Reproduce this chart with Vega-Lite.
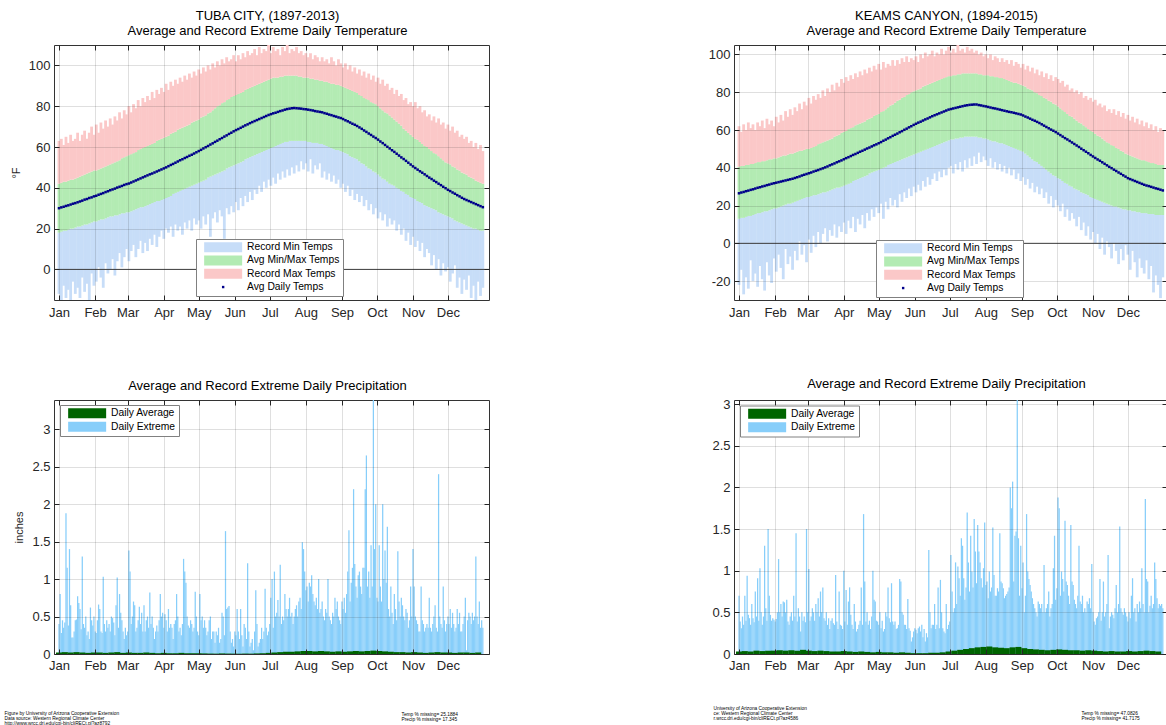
{
"$schema":"https://vega.github.io/schema/vega-lite/v6.json",
"padding":{"left":3,"top":9,"right":0,"bottom":0},
"background":"#ffffff",
"config":{
 "font":"Liberation Sans",
 "view":{"stroke":"#333333","strokeWidth":1},
 "title":{"fontSize":13,"fontWeight":"normal","color":"#000000","lineHeight":15,"offset":7,"dx":-4,"font":"Liberation Sans"},
 "axis":{"domain":false,"tickSize":-5,"tickColor":"#262626","tickWidth":1,"labelPadding":9,"labelFontSize":13,"labelColor":"#262626","labelFont":"Liberation Sans","gridColor":"#262626","gridOpacity":0.15,"titleFontWeight":"normal","titleColor":"#262626","titleFontSize":11,"titleFont":"Liberation Sans"},
 "legend":{"labelFont":"Liberation Sans","labelFontSize":10.3,"labelColor":"#000000"}
},
"datasets":{
"tt":[
{"d":1,"av":30,"mn":18,"mx":42,"hi":63,"lo":-12},{"d":3,"av":30.4,"mn":18.5,"mx":42.5,"hi":64,"lo":-15},{"d":5,"av":30.7,"mn":19,"mx":43,"hi":61,"lo":-8},{"d":7,"av":31.1,"mn":19,"mx":43,"hi":65,"lo":-14},{"d":9,"av":31.4,"mn":19.5,"mx":43.5,"hi":62,"lo":-10},{"d":11,"av":31.8,"mn":20,"mx":44,"hi":66,"lo":-15},{"d":13,"av":32.2,"mn":20,"mx":44,"hi":63,"lo":-6},{"d":15,"av":32.5,"mn":20.5,"mx":44.5,"hi":64,"lo":-12},
{"d":17,"av":32.9,"mn":21,"mx":45,"hi":67,"lo":-9},{"d":19,"av":33.3,"mn":21,"mx":45.5,"hi":63,"lo":-14},{"d":21,"av":33.7,"mn":21.5,"mx":46,"hi":66,"lo":-4},{"d":23,"av":34.2,"mn":22,"mx":46.5,"hi":68,"lo":-11},{"d":25,"av":34.5,"mn":22,"mx":47,"hi":64,"lo":-7},{"d":27,"av":35,"mn":22.5,"mx":47.5,"hi":67,"lo":-15},{"d":29,"av":35.3,"mn":23,"mx":48,"hi":70,"lo":-2},{"d":31,"av":35.8,"mn":23.5,"mx":48.5,"hi":66,"lo":-8},
{"d":33,"av":36.1,"mn":23.5,"mx":48.5,"hi":71,"lo":-6},{"d":35,"av":36.6,"mn":24,"mx":49,"hi":67,"lo":1},{"d":37,"av":37,"mn":24.5,"mx":49.5,"hi":72,"lo":-4},{"d":39,"av":37.4,"mn":24.5,"mx":50,"hi":69,"lo":-9},{"d":41,"av":37.9,"mn":25,"mx":50.5,"hi":73,"lo":3},{"d":43,"av":38.3,"mn":25.5,"mx":51,"hi":70,"lo":-2},{"d":45,"av":38.8,"mn":26,"mx":51.5,"hi":74,"lo":0},
{"d":47,"av":39.2,"mn":26,"mx":52,"hi":71,"lo":5},{"d":49,"av":39.6,"mn":26.5,"mx":52.5,"hi":75,"lo":-3},{"d":51,"av":40.1,"mn":26.5,"mx":53,"hi":73,"lo":4},{"d":53,"av":40.5,"mn":27,"mx":53.5,"hi":77,"lo":8},{"d":55,"av":40.9,"mn":27.5,"mx":54.5,"hi":74,"lo":1},{"d":57,"av":41.4,"mn":27.5,"mx":55,"hi":78,"lo":6},{"d":59,"av":41.8,"mn":28,"mx":55.5,"hi":76,"lo":10},
{"d":61,"av":42.1,"mn":28,"mx":56,"hi":80,"lo":4},{"d":63,"av":42.6,"mn":28.5,"mx":56.5,"hi":77,"lo":9},{"d":65,"av":43.1,"mn":29,"mx":57,"hi":81,"lo":12},{"d":67,"av":43.6,"mn":29.5,"mx":57.5,"hi":79,"lo":6},{"d":69,"av":44.1,"mn":30,"mx":58.5,"hi":83,"lo":10},{"d":71,"av":44.6,"mn":30.5,"mx":59,"hi":80,"lo":14},{"d":73,"av":45.1,"mn":30.5,"mx":59.5,"hi":84,"lo":8},
{"d":75,"av":45.6,"mn":31,"mx":60,"hi":82,"lo":13},{"d":77,"av":46.1,"mn":31.5,"mx":60.5,"hi":85,"lo":9},{"d":79,"av":46.6,"mn":32,"mx":61,"hi":83,"lo":15},{"d":81,"av":47,"mn":32.5,"mx":61.5,"hi":87,"lo":12},{"d":83,"av":47.5,"mn":33,"mx":62,"hi":84,"lo":17},{"d":85,"av":48,"mn":33.5,"mx":63,"hi":88,"lo":11},{"d":87,"av":48.5,"mn":33.5,"mx":63.5,"hi":86,"lo":16},{"d":89,"av":49,"mn":34,"mx":64,"hi":89,"lo":19},
{"d":91,"av":49.5,"mn":34.5,"mx":64.5,"hi":87,"lo":15},{"d":93,"av":50,"mn":35,"mx":65,"hi":91,"lo":20},{"d":95,"av":50.6,"mn":35.5,"mx":65.5,"hi":88,"lo":18},{"d":97,"av":51.2,"mn":36,"mx":66.5,"hi":92,"lo":21},{"d":99,"av":51.7,"mn":37,"mx":67,"hi":90,"lo":16},{"d":101,"av":52.3,"mn":37.5,"mx":67.5,"hi":93,"lo":22},{"d":103,"av":52.9,"mn":38,"mx":68.5,"hi":91,"lo":19},
{"d":105,"av":53.5,"mn":38.5,"mx":69,"hi":94,"lo":21},{"d":107,"av":54,"mn":39,"mx":69.5,"hi":92,"lo":17},{"d":109,"av":54.6,"mn":39.5,"mx":70,"hi":95,"lo":23},{"d":111,"av":55.1,"mn":40,"mx":70.5,"hi":93,"lo":20},{"d":113,"av":55.7,"mn":40.5,"mx":71,"hi":96,"lo":24},{"d":115,"av":56.2,"mn":41,"mx":72,"hi":94,"lo":19},{"d":117,"av":56.8,"mn":41.5,"mx":72.5,"hi":97,"lo":25},{"d":119,"av":57.4,"mn":42,"mx":73,"hi":95,"lo":22},
{"d":121,"av":58,"mn":42.5,"mx":73.5,"hi":98,"lo":24},{"d":123,"av":58.6,"mn":43,"mx":74.5,"hi":96,"lo":20},{"d":125,"av":59.3,"mn":43.5,"mx":75,"hi":99,"lo":26},{"d":127,"av":59.9,"mn":44,"mx":75.5,"hi":97,"lo":22},{"d":129,"av":60.5,"mn":45,"mx":76.5,"hi":100,"lo":27},{"d":131,"av":61.2,"mn":45.5,"mx":77,"hi":98,"lo":16},{"d":133,"av":61.8,"mn":46,"mx":78,"hi":101,"lo":25},
{"d":135,"av":62.5,"mn":46.5,"mx":79,"hi":99,"lo":28},{"d":137,"av":63.1,"mn":47,"mx":80,"hi":102,"lo":23},{"d":139,"av":63.8,"mn":47.5,"mx":80.5,"hi":100,"lo":29},{"d":141,"av":64.4,"mn":48,"mx":81.5,"hi":103,"lo":26},{"d":143,"av":65.1,"mn":48.5,"mx":82,"hi":101,"lo":15},{"d":145,"av":65.7,"mn":49.5,"mx":83,"hi":104,"lo":30},{"d":147,"av":66.4,"mn":50,"mx":83.5,"hi":102,"lo":27},{"d":149,"av":67,"mn":50.5,"mx":84.5,"hi":103,"lo":31},{"d":151,"av":67.7,"mn":51,"mx":85,"hi":105,"lo":28},
{"d":153,"av":68.3,"mn":51.5,"mx":85.5,"hi":102,"lo":33},{"d":155,"av":68.8,"mn":52,"mx":86,"hi":105,"lo":29},{"d":157,"av":69.4,"mn":52.5,"mx":86.5,"hi":103,"lo":35},{"d":159,"av":70,"mn":53,"mx":87,"hi":106,"lo":31},{"d":161,"av":70.6,"mn":54,"mx":88,"hi":104,"lo":36},{"d":163,"av":71.1,"mn":54.5,"mx":88.5,"hi":107,"lo":33},{"d":165,"av":71.7,"mn":55,"mx":89,"hi":105,"lo":38},
{"d":167,"av":72.2,"mn":55.5,"mx":89.5,"hi":106,"lo":34},{"d":169,"av":72.7,"mn":56,"mx":90,"hi":108,"lo":39},{"d":171,"av":73.2,"mn":56.5,"mx":90.5,"hi":105,"lo":37},{"d":173,"av":73.7,"mn":57,"mx":91,"hi":109,"lo":41},{"d":175,"av":74.2,"mn":57.5,"mx":91.5,"hi":106,"lo":38},{"d":177,"av":74.7,"mn":58,"mx":92,"hi":108,"lo":43},{"d":179,"av":75.2,"mn":58.5,"mx":92.5,"hi":107,"lo":40},{"d":181,"av":75.7,"mn":59,"mx":93,"hi":110,"lo":44},
{"d":183,"av":76.1,"mn":59.5,"mx":93.5,"hi":106,"lo":41},{"d":185,"av":76.5,"mn":60,"mx":94,"hi":109,"lo":45},{"d":187,"av":76.8,"mn":60.5,"mx":94,"hi":107,"lo":42},{"d":189,"av":77.2,"mn":61,"mx":94,"hi":108,"lo":47},{"d":191,"av":77.6,"mn":61.5,"mx":94.5,"hi":105,"lo":44},{"d":193,"av":77.9,"mn":62,"mx":94.5,"hi":109,"lo":48},{"d":195,"av":78.3,"mn":62.5,"mx":95,"hi":107,"lo":45},
{"d":197,"av":78.6,"mn":62.5,"mx":95,"hi":110,"lo":49},{"d":199,"av":78.8,"mn":63,"mx":95,"hi":106,"lo":46},{"d":201,"av":79,"mn":63,"mx":95,"hi":108,"lo":50},{"d":203,"av":79.1,"mn":63,"mx":95,"hi":107,"lo":47},{"d":205,"av":79,"mn":63,"mx":95,"hi":109,"lo":51},{"d":207,"av":78.9,"mn":63,"mx":94.5,"hi":106,"lo":48},{"d":209,"av":78.8,"mn":63,"mx":94.5,"hi":107,"lo":53},{"d":211,"av":78.6,"mn":63,"mx":94,"hi":105,"lo":49},
{"d":213,"av":78.5,"mn":63,"mx":94,"hi":106,"lo":52},{"d":215,"av":78.3,"mn":62.5,"mx":94,"hi":104,"lo":48},{"d":217,"av":78.1,"mn":62.5,"mx":93.5,"hi":106,"lo":54},{"d":219,"av":77.9,"mn":62,"mx":93.5,"hi":103,"lo":47},{"d":221,"av":77.6,"mn":62,"mx":93,"hi":105,"lo":51},{"d":223,"av":77.4,"mn":62,"mx":93,"hi":104,"lo":49},{"d":225,"av":77.2,"mn":61.5,"mx":92.5,"hi":102,"lo":52},
{"d":227,"av":77,"mn":61.5,"mx":92.5,"hi":104,"lo":45},{"d":229,"av":76.6,"mn":61,"mx":92,"hi":102,"lo":48},{"d":231,"av":76.3,"mn":60.5,"mx":92,"hi":103,"lo":44},{"d":233,"av":75.9,"mn":60,"mx":91.5,"hi":101,"lo":47},{"d":235,"av":75.6,"mn":59.5,"mx":91,"hi":104,"lo":43},{"d":237,"av":75.2,"mn":59,"mx":91,"hi":102,"lo":46},{"d":239,"av":74.9,"mn":58.5,"mx":90.5,"hi":100,"lo":42},{"d":241,"av":74.5,"mn":58.5,"mx":90.5,"hi":103,"lo":44},{"d":243,"av":74.2,"mn":58,"mx":90,"hi":101,"lo":40},
{"d":245,"av":73.7,"mn":57.5,"mx":89.5,"hi":99,"lo":42},{"d":247,"av":73.1,"mn":57,"mx":89,"hi":101,"lo":38},{"d":249,"av":72.6,"mn":56.5,"mx":88.5,"hi":98,"lo":41},{"d":251,"av":72,"mn":55.5,"mx":88,"hi":100,"lo":36},{"d":253,"av":71.4,"mn":55,"mx":87.5,"hi":97,"lo":39},{"d":255,"av":70.9,"mn":54.5,"mx":87,"hi":99,"lo":34},{"d":257,"av":70.3,"mn":54,"mx":86.5,"hi":96,"lo":37},
{"d":259,"av":69.6,"mn":53,"mx":85.5,"hi":98,"lo":33},{"d":261,"av":68.9,"mn":52,"mx":85,"hi":95,"lo":36},{"d":263,"av":68.1,"mn":51.5,"mx":84,"hi":97,"lo":31},{"d":265,"av":67.4,"mn":50.5,"mx":83.5,"hi":94,"lo":34},{"d":267,"av":66.6,"mn":49.5,"mx":83,"hi":96,"lo":29},{"d":269,"av":65.9,"mn":49,"mx":82,"hi":93,"lo":32},{"d":271,"av":65.1,"mn":48,"mx":81.5,"hi":95,"lo":27},{"d":273,"av":64.4,"mn":47.5,"mx":81,"hi":92,"lo":30},
{"d":275,"av":63.6,"mn":46.5,"mx":80,"hi":94,"lo":25},{"d":277,"av":62.7,"mn":45.5,"mx":79,"hi":91,"lo":28},{"d":279,"av":61.9,"mn":44.5,"mx":78,"hi":93,"lo":24},{"d":281,"av":61,"mn":44,"mx":77,"hi":90,"lo":27},{"d":283,"av":60.1,"mn":43,"mx":76.5,"hi":91,"lo":21},{"d":285,"av":59.3,"mn":42,"mx":75.5,"hi":88,"lo":25},{"d":287,"av":58.4,"mn":41.5,"mx":74.5,"hi":89,"lo":22},
{"d":289,"av":57.6,"mn":41,"mx":73.5,"hi":86,"lo":24},{"d":291,"av":56.7,"mn":40,"mx":72.5,"hi":88,"lo":19},{"d":293,"av":55.8,"mn":39.5,"mx":71.5,"hi":85,"lo":22},{"d":295,"av":54.9,"mn":38.5,"mx":70.5,"hi":86,"lo":17},{"d":297,"av":54.1,"mn":38,"mx":69,"hi":83,"lo":20},{"d":299,"av":53.2,"mn":37,"mx":68,"hi":84,"lo":14},{"d":301,"av":52.3,"mn":36.5,"mx":67,"hi":81,"lo":18},{"d":303,"av":51.4,"mn":35.5,"mx":66,"hi":82,"lo":12},
{"d":305,"av":50.5,"mn":35,"mx":65,"hi":80,"lo":16},{"d":307,"av":49.7,"mn":34.5,"mx":64,"hi":82,"lo":11},{"d":309,"av":48.9,"mn":33.5,"mx":63.5,"hi":79,"lo":14},{"d":311,"av":48.1,"mn":33,"mx":62.5,"hi":80,"lo":9},{"d":313,"av":47.4,"mn":32.5,"mx":61.5,"hi":77,"lo":13},{"d":315,"av":46.6,"mn":31.5,"mx":60.5,"hi":78,"lo":6},{"d":317,"av":45.8,"mn":31,"mx":60,"hi":75,"lo":10},
{"d":319,"av":45,"mn":30.5,"mx":59,"hi":76,"lo":8},{"d":321,"av":44.3,"mn":30,"mx":58,"hi":73,"lo":2},{"d":323,"av":43.5,"mn":29.5,"mx":57,"hi":75,"lo":7},{"d":325,"av":42.8,"mn":29,"mx":56.5,"hi":72,"lo":0},{"d":327,"av":42,"mn":28,"mx":55.5,"hi":74,"lo":5},{"d":329,"av":41.3,"mn":27.5,"mx":54.5,"hi":71,"lo":-3},{"d":331,"av":40.5,"mn":27,"mx":53.5,"hi":72,"lo":3},{"d":333,"av":39.8,"mn":26.5,"mx":52.5,"hi":69,"lo":-1},
{"d":335,"av":39,"mn":26,"mx":52,"hi":71,"lo":1},{"d":337,"av":38.4,"mn":25.5,"mx":51.5,"hi":68,"lo":-6},{"d":339,"av":37.7,"mn":25,"mx":50.5,"hi":70,"lo":-2},{"d":341,"av":37.1,"mn":24,"mx":50,"hi":67,"lo":2},{"d":343,"av":36.4,"mn":23.5,"mx":49,"hi":68,"lo":-9},{"d":345,"av":35.8,"mn":23,"mx":48.5,"hi":65,"lo":-4},{"d":347,"av":35.1,"mn":22.5,"mx":47.5,"hi":66,"lo":-12},
{"d":349,"av":34.5,"mn":22,"mx":47,"hi":64,"lo":-5},{"d":351,"av":34,"mn":21.5,"mx":46.5,"hi":65,"lo":-10},{"d":353,"av":33.5,"mn":21,"mx":45.5,"hi":62,"lo":-3},{"d":355,"av":33,"mn":20.5,"mx":45,"hi":63,"lo":-14},{"d":357,"av":32.5,"mn":20,"mx":44.5,"hi":60,"lo":-8},{"d":359,"av":32,"mn":20,"mx":43.5,"hi":62,"lo":-15},{"d":361,"av":31.5,"mn":19.5,"mx":43,"hi":59,"lo":-6},{"d":363,"av":31,"mn":19,"mx":42.5,"hi":61,"lo":-13},{"d":365,"av":30.5,"mn":19,"mx":42,"hi":58,"lo":-9}
],
"kt":[
{"d":1,"av":26.5,"mn":13,"mx":40.5,"hi":62,"lo":-22},{"d":3,"av":26.9,"mn":13.5,"mx":41,"hi":59,"lo":-14},{"d":5,"av":27.2,"mn":13.5,"mx":41,"hi":63,"lo":-27},{"d":7,"av":27.6,"mn":14,"mx":41.5,"hi":60,"lo":-18},{"d":9,"av":27.9,"mn":14.5,"mx":41.5,"hi":64,"lo":-24},{"d":11,"av":28.3,"mn":14.5,"mx":42,"hi":61,"lo":-9},{"d":13,"av":28.6,"mn":15,"mx":42,"hi":63,"lo":-20},{"d":15,"av":29,"mn":15.5,"mx":42.5,"hi":60,"lo":-16},
{"d":17,"av":29.4,"mn":16,"mx":43,"hi":64,"lo":-23},{"d":19,"av":29.7,"mn":16,"mx":43,"hi":62,"lo":-12},{"d":21,"av":30.1,"mn":16.5,"mx":43.5,"hi":65,"lo":-19},{"d":23,"av":30.4,"mn":17,"mx":43.5,"hi":61,"lo":-25},{"d":25,"av":30.8,"mn":17,"mx":44,"hi":66,"lo":-10},{"d":27,"av":31.1,"mn":17.5,"mx":44.5,"hi":63,"lo":-17},{"d":29,"av":31.5,"mn":18,"mx":44.5,"hi":65,"lo":-21},{"d":31,"av":31.8,"mn":18.5,"mx":45,"hi":62,"lo":-8},
{"d":33,"av":32.1,"mn":18.5,"mx":45,"hi":67,"lo":-15},{"d":35,"av":32.4,"mn":19,"mx":45.5,"hi":64,"lo":-6},{"d":37,"av":32.7,"mn":19.5,"mx":46,"hi":68,"lo":-13},{"d":39,"av":33,"mn":20,"mx":46.5,"hi":65,"lo":-19},{"d":41,"av":33.3,"mn":20.5,"mx":46.5,"hi":70,"lo":-3},{"d":43,"av":33.6,"mn":21,"mx":47,"hi":67,"lo":-11},{"d":45,"av":33.9,"mn":21,"mx":47.5,"hi":71,"lo":-7},
{"d":47,"av":34.2,"mn":21.5,"mx":47.5,"hi":68,"lo":-14},{"d":49,"av":34.6,"mn":22,"mx":48,"hi":72,"lo":-4},{"d":51,"av":35,"mn":22.5,"mx":48.5,"hi":70,"lo":-9},{"d":53,"av":35.4,"mn":23,"mx":49,"hi":74,"lo":1},{"d":55,"av":35.9,"mn":23.5,"mx":49,"hi":71,"lo":-6},{"d":57,"av":36.3,"mn":24,"mx":49.5,"hi":75,"lo":-1},{"d":59,"av":36.7,"mn":24.5,"mx":50,"hi":73,"lo":-10},
{"d":61,"av":37.1,"mn":24.5,"mx":50,"hi":77,"lo":2},{"d":63,"av":37.5,"mn":25,"mx":50.5,"hi":74,"lo":-5},{"d":65,"av":38,"mn":25.5,"mx":51,"hi":78,"lo":4},{"d":67,"av":38.4,"mn":25.5,"mx":51.5,"hi":76,"lo":-2},{"d":69,"av":38.8,"mn":26,"mx":52.5,"hi":79,"lo":6},{"d":71,"av":39.3,"mn":26.5,"mx":53,"hi":77,"lo":0},{"d":73,"av":39.7,"mn":27,"mx":53.5,"hi":81,"lo":5},
{"d":75,"av":40.2,"mn":27,"mx":54,"hi":78,"lo":8},{"d":77,"av":40.7,"mn":27.5,"mx":54.5,"hi":82,"lo":1},{"d":79,"av":41.3,"mn":28,"mx":55,"hi":80,"lo":7},{"d":81,"av":41.8,"mn":28.5,"mx":55.5,"hi":84,"lo":4},{"d":83,"av":42.3,"mn":29,"mx":56.5,"hi":81,"lo":10},{"d":85,"av":42.9,"mn":29.5,"mx":57,"hi":85,"lo":3},{"d":87,"av":43.4,"mn":29.5,"mx":57.5,"hi":83,"lo":9},{"d":89,"av":43.9,"mn":30,"mx":58.5,"hi":87,"lo":6},
{"d":91,"av":44.5,"mn":30.5,"mx":59,"hi":85,"lo":11},{"d":93,"av":45.1,"mn":31,"mx":59.5,"hi":88,"lo":5},{"d":95,"av":45.6,"mn":31.5,"mx":60.5,"hi":86,"lo":12},{"d":97,"av":46.2,"mn":32,"mx":61,"hi":89,"lo":8},{"d":99,"av":46.8,"mn":33,"mx":61.5,"hi":87,"lo":14},{"d":101,"av":47.3,"mn":33.5,"mx":62.5,"hi":90,"lo":6},{"d":103,"av":47.9,"mn":34,"mx":63,"hi":88,"lo":13},
{"d":105,"av":48.5,"mn":34.5,"mx":63.5,"hi":91,"lo":10},{"d":107,"av":49,"mn":35,"mx":64,"hi":89,"lo":15},{"d":109,"av":49.6,"mn":35.5,"mx":64.5,"hi":92,"lo":8},{"d":111,"av":50.2,"mn":36,"mx":65.5,"hi":90,"lo":16},{"d":113,"av":50.7,"mn":37,"mx":66,"hi":93,"lo":12},{"d":115,"av":51.3,"mn":37.5,"mx":66.5,"hi":91,"lo":18},{"d":117,"av":51.9,"mn":38,"mx":67.5,"hi":94,"lo":14},{"d":119,"av":52.4,"mn":38.5,"mx":68,"hi":92,"lo":19},
{"d":121,"av":53,"mn":39,"mx":68.5,"hi":95,"lo":16},{"d":123,"av":53.6,"mn":39.5,"mx":69.5,"hi":92,"lo":21},{"d":125,"av":54.3,"mn":40,"mx":70,"hi":96,"lo":13},{"d":127,"av":54.9,"mn":40.5,"mx":71,"hi":93,"lo":22},{"d":129,"av":55.6,"mn":41.5,"mx":72,"hi":95,"lo":18},{"d":131,"av":56.2,"mn":42,"mx":73,"hi":94,"lo":24},{"d":133,"av":56.9,"mn":42.5,"mx":73.5,"hi":97,"lo":20},
{"d":135,"av":57.5,"mn":43,"mx":74.5,"hi":94,"lo":23},{"d":137,"av":58.1,"mn":43.5,"mx":75.5,"hi":97,"lo":19},{"d":139,"av":58.8,"mn":44,"mx":76,"hi":95,"lo":26},{"d":141,"av":59.4,"mn":44.5,"mx":77,"hi":98,"lo":22},{"d":143,"av":60.1,"mn":45,"mx":77.5,"hi":96,"lo":27},{"d":145,"av":60.7,"mn":45.5,"mx":78.5,"hi":99,"lo":24},{"d":147,"av":61.4,"mn":46,"mx":79,"hi":96,"lo":29},{"d":149,"av":62,"mn":46.5,"mx":80,"hi":98,"lo":25},{"d":151,"av":62.7,"mn":47,"mx":80.5,"hi":97,"lo":30},
{"d":153,"av":63.3,"mn":47.5,"mx":81,"hi":99,"lo":27},{"d":155,"av":63.9,"mn":48,"mx":81.5,"hi":96,"lo":31},{"d":157,"av":64.4,"mn":48.5,"mx":82,"hi":100,"lo":28},{"d":159,"av":65,"mn":49,"mx":83,"hi":98,"lo":33},{"d":161,"av":65.6,"mn":49.5,"mx":83.5,"hi":101,"lo":30},{"d":163,"av":66.1,"mn":50,"mx":84,"hi":99,"lo":35},{"d":165,"av":66.7,"mn":50.5,"mx":84.5,"hi":100,"lo":31},
{"d":167,"av":67.3,"mn":51,"mx":85,"hi":102,"lo":34},{"d":169,"av":67.8,"mn":51.5,"mx":85.5,"hi":99,"lo":37},{"d":171,"av":68.3,"mn":52,"mx":86,"hi":101,"lo":33},{"d":173,"av":68.8,"mn":52.5,"mx":86.5,"hi":100,"lo":38},{"d":175,"av":69.3,"mn":53,"mx":87,"hi":103,"lo":35},{"d":177,"av":69.8,"mn":53.5,"mx":87.5,"hi":100,"lo":39},{"d":179,"av":70.3,"mn":54,"mx":88,"hi":102,"lo":36},{"d":181,"av":70.8,"mn":54.5,"mx":88.5,"hi":104,"lo":40},
{"d":183,"av":71.1,"mn":55,"mx":88.5,"hi":101,"lo":41},{"d":185,"av":71.4,"mn":55,"mx":89,"hi":103,"lo":37},{"d":187,"av":71.7,"mn":55.5,"mx":89,"hi":101,"lo":42},{"d":189,"av":72,"mn":55.5,"mx":89.5,"hi":105,"lo":39},{"d":191,"av":72.3,"mn":56,"mx":89.5,"hi":102,"lo":43},{"d":193,"av":72.6,"mn":56,"mx":90,"hi":103,"lo":38},{"d":195,"av":72.9,"mn":56.5,"mx":90,"hi":101,"lo":44},
{"d":197,"av":73.1,"mn":56.5,"mx":90,"hi":104,"lo":40},{"d":199,"av":73.3,"mn":56.5,"mx":90,"hi":102,"lo":45},{"d":201,"av":73.4,"mn":56.5,"mx":90,"hi":103,"lo":41},{"d":203,"av":73.5,"mn":56.5,"mx":90,"hi":101,"lo":46},{"d":205,"av":73.5,"mn":56.5,"mx":90,"hi":102,"lo":42},{"d":207,"av":73.2,"mn":56,"mx":89.5,"hi":100,"lo":48},{"d":209,"av":73,"mn":56,"mx":89.5,"hi":101,"lo":43},{"d":211,"av":72.7,"mn":55.5,"mx":89,"hi":99,"lo":46},
{"d":213,"av":72.5,"mn":55.5,"mx":89,"hi":100,"lo":44},{"d":215,"av":72.2,"mn":55,"mx":89,"hi":98,"lo":41},{"d":217,"av":71.9,"mn":54.5,"mx":88.5,"hi":100,"lo":45},{"d":219,"av":71.6,"mn":54,"mx":88.5,"hi":97,"lo":40},{"d":221,"av":71.4,"mn":54,"mx":88,"hi":99,"lo":43},{"d":223,"av":71.1,"mn":53.5,"mx":88,"hi":98,"lo":39},{"d":225,"av":70.8,"mn":53,"mx":87.5,"hi":96,"lo":42},
{"d":227,"av":70.5,"mn":53,"mx":87.5,"hi":98,"lo":38},{"d":229,"av":70.2,"mn":52.5,"mx":87,"hi":96,"lo":41},{"d":231,"av":69.9,"mn":52,"mx":86.5,"hi":97,"lo":37},{"d":233,"av":69.6,"mn":51.5,"mx":86,"hi":95,"lo":40},{"d":235,"av":69.4,"mn":51,"mx":85.5,"hi":97,"lo":36},{"d":237,"av":69.1,"mn":50.5,"mx":85,"hi":94,"lo":39},{"d":239,"av":68.8,"mn":50,"mx":85,"hi":96,"lo":34},{"d":241,"av":68.5,"mn":49.5,"mx":84.5,"hi":95,"lo":37},{"d":243,"av":68.2,"mn":49,"mx":84,"hi":93,"lo":33},
{"d":245,"av":67.7,"mn":48.5,"mx":83.5,"hi":95,"lo":35},{"d":247,"av":67.1,"mn":47.5,"mx":83,"hi":92,"lo":31},{"d":249,"av":66.6,"mn":46.5,"mx":82,"hi":94,"lo":34},{"d":251,"av":66,"mn":45.5,"mx":81.5,"hi":91,"lo":29},{"d":253,"av":65.4,"mn":44.5,"mx":81,"hi":93,"lo":32},{"d":255,"av":64.9,"mn":43.5,"mx":80,"hi":90,"lo":27},{"d":257,"av":64.3,"mn":43,"mx":79.5,"hi":92,"lo":30},
{"d":259,"av":63.7,"mn":42,"mx":78.5,"hi":89,"lo":26},{"d":261,"av":63,"mn":41,"mx":78,"hi":91,"lo":29},{"d":263,"av":62.3,"mn":40,"mx":77,"hi":88,"lo":24},{"d":265,"av":61.6,"mn":39,"mx":76.5,"hi":90,"lo":27},{"d":267,"av":60.9,"mn":38,"mx":75.5,"hi":87,"lo":21},{"d":269,"av":60.2,"mn":37,"mx":75,"hi":89,"lo":25},{"d":271,"av":59.6,"mn":36,"mx":74,"hi":86,"lo":19},{"d":273,"av":58.9,"mn":35.5,"mx":73.5,"hi":88,"lo":23},
{"d":275,"av":58.1,"mn":34.5,"mx":72.5,"hi":87,"lo":20},{"d":277,"av":57.3,"mn":34,"mx":71.5,"hi":85,"lo":17},{"d":279,"av":56.5,"mn":33,"mx":70.5,"hi":86,"lo":21},{"d":281,"av":55.7,"mn":32,"mx":69.5,"hi":83,"lo":14},{"d":283,"av":55,"mn":31.5,"mx":68.5,"hi":84,"lo":18},{"d":285,"av":54.2,"mn":30.5,"mx":67.5,"hi":81,"lo":12},{"d":287,"av":53.4,"mn":30,"mx":67,"hi":82,"lo":16},
{"d":289,"av":52.6,"mn":29,"mx":66,"hi":80,"lo":13},{"d":291,"av":51.8,"mn":28.5,"mx":65,"hi":81,"lo":9},{"d":293,"av":51,"mn":28,"mx":64,"hi":79,"lo":14},{"d":295,"av":50.1,"mn":27,"mx":63.5,"hi":80,"lo":7},{"d":297,"av":49.3,"mn":26.5,"mx":62.5,"hi":77,"lo":11},{"d":299,"av":48.5,"mn":26,"mx":61.5,"hi":78,"lo":4},{"d":301,"av":47.7,"mn":25.5,"mx":60.5,"hi":76,"lo":9},{"d":303,"av":46.8,"mn":24.5,"mx":59.5,"hi":77,"lo":2},
{"d":305,"av":46,"mn":24,"mx":59,"hi":75,"lo":6},{"d":307,"av":45.2,"mn":23.5,"mx":58,"hi":76,"lo":0},{"d":309,"av":44.4,"mn":23,"mx":57,"hi":73,"lo":5},{"d":311,"av":43.7,"mn":22.5,"mx":56.5,"hi":74,"lo":-3},{"d":313,"av":42.9,"mn":22,"mx":55.5,"hi":72,"lo":3},{"d":315,"av":42.1,"mn":21.5,"mx":54.5,"hi":73,"lo":-6},{"d":317,"av":41.3,"mn":21,"mx":53.5,"hi":70,"lo":1},
{"d":319,"av":40.5,"mn":20.5,"mx":53,"hi":71,"lo":-2},{"d":321,"av":39.8,"mn":20,"mx":52,"hi":69,"lo":-8},{"d":323,"av":39,"mn":19.5,"mx":51.5,"hi":71,"lo":0},{"d":325,"av":38.3,"mn":19.5,"mx":50.5,"hi":68,"lo":-4},{"d":327,"av":37.5,"mn":19,"mx":50,"hi":70,"lo":-11},{"d":329,"av":36.8,"mn":18.5,"mx":49,"hi":67,"lo":-3},{"d":331,"av":36,"mn":18,"mx":48.5,"hi":69,"lo":-9},{"d":333,"av":35.3,"mn":18,"mx":47.5,"hi":66,"lo":-1},
{"d":335,"av":34.5,"mn":17.5,"mx":47,"hi":68,"lo":-6},{"d":337,"av":34,"mn":17.5,"mx":46.5,"hi":65,"lo":-14},{"d":339,"av":33.5,"mn":17,"mx":46,"hi":67,"lo":-4},{"d":341,"av":33,"mn":17,"mx":45.5,"hi":64,"lo":-10},{"d":343,"av":32.5,"mn":16.5,"mx":45,"hi":66,"lo":-18},{"d":345,"av":32,"mn":16.5,"mx":44.5,"hi":63,"lo":-8},{"d":347,"av":31.5,"mn":16,"mx":44,"hi":65,"lo":-13},
{"d":349,"av":31,"mn":16,"mx":44,"hi":62,"lo":-16},{"d":351,"av":30.6,"mn":16,"mx":43.5,"hi":64,"lo":-9},{"d":353,"av":30.3,"mn":15.5,"mx":43,"hi":61,"lo":-19},{"d":355,"av":29.9,"mn":15.5,"mx":42.5,"hi":63,"lo":-12},{"d":357,"av":29.5,"mn":15.5,"mx":42.5,"hi":60,"lo":-26},{"d":359,"av":29.1,"mn":15,"mx":42,"hi":62,"lo":-17},{"d":361,"av":28.8,"mn":15,"mx":41.5,"hi":59,"lo":-22},{"d":363,"av":28.4,"mn":15,"mx":41.5,"hi":61,"lo":-29},{"d":365,"av":28,"mn":15,"mx":41.5,"hi":60,"lo":-18}
],
"tp":[
{"d":1,"p":0.4},{"d":2,"p":0.8},{"d":3,"p":0.28},{"d":4,"p":0.45},{"d":5,"p":0.35},{"d":6,"p":0.42},{"d":7,"p":1.88},{"d":8,"p":1.15},{"d":9,"p":0.38},{"d":10,"p":1.4},{"d":11,"p":0.65},{"d":12,"p":0.22},{"d":13,"p":0.22},{"d":14,"p":0.3},{"d":15,"p":0.45},{"d":16,"p":0.46},{"d":17,"p":0.77},{"d":18,"p":0.68},{"d":19,"p":0.6},{"d":20,"p":0.33},{"d":21,"p":1.3},{"d":22,"p":0.4},{"d":23,"p":0.35},{"d":24,"p":0.5},{"d":25,"p":0.25},{"d":26,"p":0.3},{"d":27,"p":0.2},{"d":28,"p":0.62},{"d":29,"p":0.45},{"d":30,"p":0.38},{"d":31,"p":0.5},
{"d":32,"p":0.3},{"d":33,"p":0.28},{"d":34,"p":0.45},{"d":35,"p":0.66},{"d":36,"p":0.6},{"d":37,"p":0.3},{"d":38,"p":0.28},{"d":39,"p":1.03},{"d":40,"p":0.4},{"d":41,"p":0.3},{"d":42,"p":0.45},{"d":43,"p":0.35},{"d":44,"p":0.4},{"d":45,"p":0.3},{"d":46,"p":0.5},{"d":47,"p":0.48},{"d":48,"p":0.42},{"d":49,"p":0.25},{"d":50,"p":0.65},{"d":51,"p":1.02},{"d":52,"p":0.35},{"d":53,"p":0.8},{"d":54,"p":0.55},{"d":55,"p":0.45},{"d":56,"p":0.3},{"d":57,"p":0.2},{"d":58,"p":0.35},{"d":59,"p":0.25},
{"d":60,"p":0.3},{"d":61,"p":1.38},{"d":62,"p":1.1},{"d":63,"p":0.4},{"d":64,"p":0.5},{"d":65,"p":0.7},{"d":66,"p":0.65},{"d":67,"p":0.3},{"d":68,"p":0.35},{"d":69,"p":0.45},{"d":70,"p":0.63},{"d":71,"p":0.4},{"d":72,"p":0.55},{"d":73,"p":0.3},{"d":74,"p":0.65},{"d":75,"p":0.3},{"d":76,"p":0.45},{"d":77,"p":0.5},{"d":78,"p":0.35},{"d":79,"p":0.82},{"d":80,"p":0.4},{"d":81,"p":0.5},{"d":82,"p":0.35},{"d":83,"p":0.2},{"d":84,"p":0.3},{"d":85,"p":0.38},{"d":86,"p":0.3},{"d":87,"p":0.45},{"d":88,"p":0.8},{"d":89,"p":0.5},{"d":90,"p":0.55},
{"d":91,"p":0.35},{"d":92,"p":0.53},{"d":93,"p":0.45},{"d":94,"p":0.3},{"d":95,"p":0.6},{"d":96,"p":0.35},{"d":97,"p":0.4},{"d":98,"p":0.35},{"d":99,"p":0.2},{"d":100,"p":0.4},{"d":101,"p":0.45},{"d":102,"p":0.8},{"d":103,"p":0.5},{"d":104,"p":0.3},{"d":105,"p":0.35},{"d":106,"p":0.25},{"d":107,"p":0.4},{"d":108,"p":1.27},{"d":109,"p":1.1},{"d":110,"p":0.95},{"d":111,"p":0.5},{"d":112,"p":0.38},{"d":113,"p":0.35},{"d":114,"p":0.45},{"d":115,"p":0.4},{"d":116,"p":0.3},{"d":117,"p":0.35},{"d":118,"p":0.83},{"d":119,"p":0.5},{"d":120,"p":0.3},
{"d":121,"p":0.25},{"d":122,"p":0.8},{"d":123,"p":0.45},{"d":124,"p":0.5},{"d":125,"p":0.35},{"d":126,"p":0.45},{"d":127,"p":0.35},{"d":128,"p":0.25},{"d":129,"p":0.3},{"d":130,"p":0.45},{"d":131,"p":0.5},{"d":132,"p":0.2},{"d":133,"p":0.3},{"d":134,"p":0.3},{"d":135,"p":0.15},{"d":136,"p":0.3},{"d":137,"p":0.25},{"d":138,"p":0.35},{"d":139,"p":0.15},{"d":140,"p":0.2},{"d":141,"p":0.55},{"d":142,"p":0.5},{"d":143,"p":0.25},{"d":144,"p":1.64},{"d":145,"p":0.6},{"d":146,"p":0.62},{"d":147,"p":0.64},{"d":148,"p":0.3},{"d":149,"p":0.15},{"d":150,"p":0.2},{"d":151,"p":0.1},
{"d":152,"p":0.3},{"d":153,"p":0.25},{"d":154,"p":0.6},{"d":155,"p":0.3},{"d":156,"p":0.2},{"d":157,"p":0.6},{"d":158,"p":0.25},{"d":159,"p":0.1},{"d":160,"p":0.4},{"d":161,"p":0.35},{"d":162,"p":0.2},{"d":163,"p":1.21},{"d":164,"p":0.3},{"d":165,"p":0.1},{"d":166,"p":0.15},{"d":167,"p":0.2},{"d":168,"p":0.05},{"d":169,"p":0.3},{"d":170,"p":0.85},{"d":171,"p":0.4},{"d":172,"p":0.1},{"d":173,"p":0.15},{"d":174,"p":0.2},{"d":175,"p":0.35},{"d":176,"p":0.2},{"d":177,"p":0.3},{"d":178,"p":0.87},{"d":179,"p":0.35},{"d":180,"p":0.25},{"d":181,"p":0.3},
{"d":182,"p":0.4},{"d":183,"p":0.75},{"d":184,"p":1.0},{"d":185,"p":0.35},{"d":186,"p":1.1},{"d":187,"p":0.5},{"d":188,"p":0.55},{"d":189,"p":0.72},{"d":190,"p":0.5},{"d":191,"p":1.19},{"d":192,"p":0.4},{"d":193,"p":0.5},{"d":194,"p":0.45},{"d":195,"p":0.8},{"d":196,"p":0.6},{"d":197,"p":0.5},{"d":198,"p":0.6},{"d":199,"p":0.75},{"d":200,"p":0.5},{"d":201,"p":0.55},{"d":202,"p":0.4},{"d":203,"p":0.5},{"d":204,"p":0.6},{"d":205,"p":0.65},{"d":206,"p":0.5},{"d":207,"p":0.7},{"d":208,"p":0.75},{"d":209,"p":0.6},{"d":210,"p":1.49},{"d":211,"p":1.4},{"d":212,"p":1.1},
{"d":213,"p":0.85},{"d":214,"p":0.9},{"d":215,"p":0.7},{"d":216,"p":0.95},{"d":217,"p":0.9},{"d":218,"p":1.05},{"d":219,"p":0.8},{"d":220,"p":0.7},{"d":221,"p":0.65},{"d":222,"p":0.75},{"d":223,"p":0.6},{"d":224,"p":1.0},{"d":225,"p":0.55},{"d":226,"p":0.6},{"d":227,"p":0.7},{"d":228,"p":0.5},{"d":229,"p":0.45},{"d":230,"p":0.6},{"d":231,"p":0.55},{"d":232,"p":1.0},{"d":233,"p":0.5},{"d":234,"p":0.45},{"d":235,"p":0.4},{"d":236,"p":0.55},{"d":237,"p":0.5},{"d":238,"p":0.75},{"d":239,"p":0.6},{"d":240,"p":0.7},{"d":241,"p":0.5},{"d":242,"p":0.45},{"d":243,"p":0.4},
{"d":244,"p":0.7},{"d":245,"p":0.6},{"d":246,"p":0.75},{"d":247,"p":0.55},{"d":248,"p":0.8},{"d":249,"p":1.1},{"d":250,"p":1.65},{"d":251,"p":0.7},{"d":252,"p":0.95},{"d":253,"p":1.15},{"d":254,"p":2.2},{"d":255,"p":1.2},{"d":256,"p":0.9},{"d":257,"p":0.75},{"d":258,"p":1.05},{"d":259,"p":1.1},{"d":260,"p":0.9},{"d":261,"p":0.8},{"d":262,"p":1.15},{"d":263,"p":1.15},{"d":264,"p":2.2},{"d":265,"p":2.65},{"d":266,"p":0.9},{"d":267,"p":1.1},{"d":268,"p":0.75},{"d":269,"p":1.45},{"d":270,"p":0.9},{"d":271,"p":3.39},{"d":272,"p":1.4},{"d":273,"p":2.0},
{"d":274,"p":0.75},{"d":275,"p":0.7},{"d":276,"p":1.45},{"d":277,"p":0.9},{"d":278,"p":0.7},{"d":279,"p":2.0},{"d":280,"p":1.0},{"d":281,"p":1.38},{"d":282,"p":0.95},{"d":283,"p":1.7},{"d":284,"p":0.6},{"d":285,"p":0.5},{"d":286,"p":0.9},{"d":287,"p":0.55},{"d":288,"p":0.4},{"d":289,"p":0.8},{"d":290,"p":0.6},{"d":291,"p":0.45},{"d":292,"p":1.37},{"d":293,"p":0.7},{"d":294,"p":0.5},{"d":295,"p":0.75},{"d":296,"p":0.65},{"d":297,"p":0.5},{"d":298,"p":0.45},{"d":299,"p":0.6},{"d":300,"p":0.55},{"d":301,"p":0.35},{"d":302,"p":0.45},{"d":303,"p":0.9},{"d":304,"p":0.5},
{"d":305,"p":1.4},{"d":306,"p":0.9},{"d":307,"p":0.5},{"d":308,"p":0.45},{"d":309,"p":0.4},{"d":310,"p":0.3},{"d":311,"p":0.3},{"d":312,"p":0.9},{"d":313,"p":0.45},{"d":314,"p":0.4},{"d":315,"p":0.3},{"d":316,"p":0.35},{"d":317,"p":0.4},{"d":318,"p":0.35},{"d":319,"p":0.75},{"d":320,"p":0.35},{"d":321,"p":0.3},{"d":322,"p":0.4},{"d":323,"p":0.5},{"d":324,"p":0.65},{"d":325,"p":0.35},{"d":326,"p":0.3},{"d":327,"p":2.4},{"d":328,"p":0.5},{"d":329,"p":0.4},{"d":330,"p":0.35},{"d":331,"p":0.9},{"d":332,"p":0.45},{"d":333,"p":0.3},{"d":334,"p":0.4},
{"d":335,"p":0.5},{"d":336,"p":0.4},{"d":337,"p":0.6},{"d":338,"p":0.35},{"d":339,"p":0.55},{"d":340,"p":0.4},{"d":341,"p":0.3},{"d":342,"p":0.35},{"d":343,"p":0.6},{"d":344,"p":0.4},{"d":345,"p":0.55},{"d":346,"p":0.3},{"d":347,"p":0.3},{"d":348,"p":0.4},{"d":349,"p":0.5},{"d":350,"p":0.75},{"d":351,"p":0.05},{"d":352,"p":0.45},{"d":353,"p":0.55},{"d":354,"p":0.5},{"d":355,"p":0.4},{"d":356,"p":0.55},{"d":357,"p":0.45},{"d":358,"p":0.5},{"d":359,"p":1.3},{"d":360,"p":0.5},{"d":361,"p":0.4},{"d":362,"p":0.7},{"d":363,"p":0.35},{"d":364,"p":0.45},{"d":365,"p":0.35}
],
"tpa":[
{"d":1,"a":0.02},{"d":6,"a":0.025},{"d":11,"a":0.02},{"d":16,"a":0.025},{"d":21,"a":0.02},{"d":26,"a":0.015},{"d":31,"a":0.02},{"d":36,"a":0.02},{"d":41,"a":0.015},{"d":46,"a":0.02},{"d":51,"a":0.025},{"d":56,"a":0.015},{"d":61,"a":0.02},{"d":66,"a":0.015},{"d":71,"a":0.015},{"d":76,"a":0.02},{"d":81,"a":0.015},{"d":86,"a":0.01},{"d":91,"a":0.015},{"d":96,"a":0.01},{"d":101,"a":0.01},{"d":106,"a":0.015},{"d":111,"a":0.01},{"d":116,"a":0.01},{"d":121,"a":0.01},{"d":126,"a":0.008},{"d":131,"a":0.006},{"d":136,"a":0.005},{"d":141,"a":0.008},{"d":146,"a":0.006},{"d":151,"a":0.005},{"d":156,"a":0.004},{"d":161,"a":0.006},{"d":166,"a":0.005},{"d":171,"a":0.008},{"d":176,"a":0.01},{"d":181,"a":0.015},{"d":186,"a":0.02},{"d":191,"a":0.025},{"d":196,"a":0.03},{"d":201,"a":0.03},{"d":206,"a":0.035},{"d":211,"a":0.04},{"d":216,"a":0.04},{"d":221,"a":0.035},{"d":226,"a":0.04},{"d":231,"a":0.035},{"d":236,"a":0.03},{"d":241,"a":0.035},{"d":246,"a":0.03},{"d":251,"a":0.035},{"d":256,"a":0.04},{"d":261,"a":0.035},{"d":266,"a":0.04},{"d":271,"a":0.045},{"d":276,"a":0.04},{"d":281,"a":0.035},{"d":286,"a":0.03},{"d":291,"a":0.025},{"d":296,"a":0.025},{"d":301,"a":0.02},{"d":306,"a":0.025},{"d":311,"a":0.02},{"d":316,"a":0.015},{"d":321,"a":0.02},{"d":326,"a":0.025},{"d":331,"a":0.02},{"d":336,"a":0.02},{"d":341,"a":0.015},{"d":346,"a":0.02},{"d":351,"a":0.02},{"d":356,"a":0.015},{"d":361,"a":0.02}
],
"kp":[
{"d":1,"p":0.7},{"d":2,"p":0.39},{"d":3,"p":0.31},{"d":4,"p":0.45},{"d":5,"p":0.35},{"d":6,"p":0.7},{"d":7,"p":0.4},{"d":8,"p":0.94},{"d":9,"p":0.47},{"d":10,"p":0.43},{"d":11,"p":0.35},{"d":12,"p":0.6},{"d":13,"p":0.43},{"d":14,"p":0.38},{"d":15,"p":0.75},{"d":16,"p":0.45},{"d":17,"p":0.91},{"d":18,"p":0.4},{"d":19,"p":1.03},{"d":20,"p":0.5},{"d":21,"p":0.35},{"d":22,"p":0.45},{"d":23,"p":1.3},{"d":24,"p":0.55},{"d":25,"p":0.4},{"d":26,"p":1.5},{"d":27,"p":0.7},{"d":28,"p":0.47},{"d":29,"p":0.4},{"d":30,"p":0.43},{"d":31,"p":0.41},
{"d":32,"p":0.39},{"d":33,"p":0.42},{"d":34,"p":0.5},{"d":35,"p":1.14},{"d":36,"p":0.5},{"d":37,"p":0.6},{"d":38,"p":0.45},{"d":39,"p":0.63},{"d":40,"p":0.62},{"d":41,"p":0.5},{"d":42,"p":0.65},{"d":43,"p":0.39},{"d":44,"p":0.35},{"d":45,"p":0.45},{"d":46,"p":0.5},{"d":47,"p":0.4},{"d":48,"p":0.7},{"d":49,"p":0.45},{"d":50,"p":1.45},{"d":51,"p":0.39},{"d":52,"p":0.55},{"d":53,"p":0.45},{"d":54,"p":0.27},{"d":55,"p":0.5},{"d":56,"p":0.4},{"d":57,"p":0.45},{"d":58,"p":0.38},{"d":59,"p":1.5},
{"d":60,"p":0.5},{"d":61,"p":1.02},{"d":62,"p":0.4},{"d":63,"p":0.45},{"d":64,"p":0.55},{"d":65,"p":0.5},{"d":66,"p":0.4},{"d":67,"p":0.6},{"d":68,"p":0.5},{"d":69,"p":0.67},{"d":70,"p":0.45},{"d":71,"p":0.75},{"d":72,"p":0.5},{"d":73,"p":0.8},{"d":74,"p":0.43},{"d":75,"p":0.4},{"d":76,"p":0.5},{"d":77,"p":0.35},{"d":78,"p":0.43},{"d":79,"p":0.3},{"d":80,"p":0.4},{"d":81,"p":0.43},{"d":82,"p":0.37},{"d":83,"p":0.35},{"d":84,"p":0.95},{"d":85,"p":0.39},{"d":86,"p":0.3},{"d":87,"p":0.75},{"d":88,"p":0.35},{"d":89,"p":0.34},{"d":90,"p":0.3},
{"d":91,"p":1.0},{"d":92,"p":0.39},{"d":93,"p":0.77},{"d":94,"p":0.35},{"d":95,"p":0.63},{"d":96,"p":0.8},{"d":97,"p":0.47},{"d":98,"p":0.35},{"d":99,"p":0.3},{"d":100,"p":0.6},{"d":101,"p":0.39},{"d":102,"p":0.27},{"d":103,"p":0.3},{"d":104,"p":0.35},{"d":105,"p":0.4},{"d":106,"p":0.8},{"d":107,"p":0.35},{"d":108,"p":1.68},{"d":109,"p":0.87},{"d":110,"p":0.39},{"d":111,"p":0.5},{"d":112,"p":0.35},{"d":113,"p":0.4},{"d":114,"p":0.3},{"d":115,"p":0.45},{"d":116,"p":1.0},{"d":117,"p":0.65},{"d":118,"p":0.63},{"d":119,"p":0.4},{"d":120,"p":0.39},
{"d":121,"p":0.35},{"d":122,"p":0.5},{"d":123,"p":0.31},{"d":124,"p":0.4},{"d":125,"p":0.27},{"d":126,"p":0.3},{"d":127,"p":0.5},{"d":128,"p":0.45},{"d":129,"p":0.8},{"d":130,"p":0.43},{"d":131,"p":0.38},{"d":132,"p":0.85},{"d":133,"p":0.39},{"d":134,"p":0.35},{"d":135,"p":0.39},{"d":136,"p":0.3},{"d":137,"p":0.31},{"d":138,"p":0.35},{"d":139,"p":0.9},{"d":140,"p":0.87},{"d":141,"p":0.5},{"d":142,"p":0.47},{"d":143,"p":0.35},{"d":144,"p":0.35},{"d":145,"p":0.3},{"d":146,"p":0.66},{"d":147,"p":0.31},{"d":148,"p":0.28},{"d":149,"p":0.15},{"d":150,"p":0.2},{"d":151,"p":0.27},
{"d":152,"p":0.31},{"d":153,"p":0.29},{"d":154,"p":0.25},{"d":155,"p":0.31},{"d":156,"p":0.33},{"d":157,"p":0.27},{"d":158,"p":0.35},{"d":159,"p":0.2},{"d":160,"p":0.3},{"d":161,"p":0.15},{"d":162,"p":0.25},{"d":163,"p":0.2},{"d":164,"p":1.25},{"d":165,"p":0.5},{"d":166,"p":0.31},{"d":167,"p":0.35},{"d":168,"p":0.35},{"d":169,"p":0.6},{"d":170,"p":0.3},{"d":171,"p":0.35},{"d":172,"p":0.8},{"d":173,"p":0.31},{"d":174,"p":0.89},{"d":175,"p":0.5},{"d":176,"p":0.31},{"d":177,"p":0.27},{"d":178,"p":0.25},{"d":179,"p":0.6},{"d":180,"p":0.3},{"d":181,"p":0.35},
{"d":182,"p":0.39},{"d":183,"p":1.19},{"d":184,"p":0.75},{"d":185,"p":0.5},{"d":186,"p":0.55},{"d":187,"p":1.1},{"d":188,"p":0.6},{"d":189,"p":1.05},{"d":190,"p":0.91},{"d":191,"p":0.7},{"d":192,"p":1.39},{"d":193,"p":1.3},{"d":194,"p":0.91},{"d":195,"p":0.65},{"d":196,"p":0.8},{"d":197,"p":1.7},{"d":198,"p":1.1},{"d":199,"p":0.75},{"d":200,"p":1.42},{"d":201,"p":0.99},{"d":202,"p":0.8},{"d":203,"p":1.62},{"d":204,"p":1.23},{"d":205,"p":0.85},{"d":206,"p":1.55},{"d":207,"p":1.23},{"d":208,"p":1.1},{"d":209,"p":0.91},{"d":210,"p":0.8},{"d":211,"p":1.03},{"d":212,"p":1.58},
{"d":213,"p":0.83},{"d":214,"p":0.87},{"d":215,"p":0.67},{"d":216,"p":0.99},{"d":217,"p":0.75},{"d":218,"p":0.8},{"d":219,"p":1.52},{"d":220,"p":0.95},{"d":221,"p":0.7},{"d":222,"p":0.7},{"d":223,"p":0.79},{"d":224,"p":0.75},{"d":225,"p":1.45},{"d":226,"p":0.87},{"d":227,"p":0.85},{"d":228,"p":0.79},{"d":229,"p":0.67},{"d":230,"p":0.7},{"d":231,"p":0.72},{"d":232,"p":0.75},{"d":233,"p":0.8},{"d":234,"p":2.0},{"d":235,"p":1.75},{"d":236,"p":2.07},{"d":237,"p":0.87},{"d":238,"p":1.42},{"d":239,"p":1.47},{"d":240,"p":3.05},{"d":241,"p":1.39},{"d":242,"p":0.7},{"d":243,"p":1.3},
{"d":244,"p":0.79},{"d":245,"p":1.1},{"d":246,"p":0.5},{"d":247,"p":0.7},{"d":248,"p":1.68},{"d":249,"p":0.99},{"d":250,"p":0.9},{"d":251,"p":0.83},{"d":252,"p":0.75},{"d":253,"p":0.67},{"d":254,"p":0.6},{"d":255,"p":0.55},{"d":256,"p":0.5},{"d":257,"p":0.45},{"d":258,"p":0.63},{"d":259,"p":0.6},{"d":260,"p":0.55},{"d":261,"p":0.6},{"d":262,"p":0.5},{"d":263,"p":1.07},{"d":264,"p":0.5},{"d":265,"p":0.55},{"d":266,"p":0.6},{"d":267,"p":0.75},{"d":268,"p":0.45},{"d":269,"p":0.55},{"d":270,"p":0.6},{"d":271,"p":1.03},{"d":272,"p":1.42},{"d":273,"p":0.65},
{"d":274,"p":0.79},{"d":275,"p":1.88},{"d":276,"p":1.75},{"d":277,"p":0.7},{"d":278,"p":0.99},{"d":279,"p":0.9},{"d":280,"p":0.75},{"d":281,"p":1.6},{"d":282,"p":0.87},{"d":283,"p":0.83},{"d":284,"p":0.7},{"d":285,"p":0.6},{"d":286,"p":1.55},{"d":287,"p":0.87},{"d":288,"p":0.83},{"d":289,"p":0.65},{"d":290,"p":0.6},{"d":291,"p":0.55},{"d":292,"p":0.7},{"d":293,"p":1.3},{"d":294,"p":0.63},{"d":295,"p":0.6},{"d":296,"p":0.7},{"d":297,"p":0.5},{"d":298,"p":0.55},{"d":299,"p":0.5},{"d":300,"p":0.63},{"d":301,"p":0.6},{"d":302,"p":0.67},{"d":303,"p":0.55},{"d":304,"p":1.08},
{"d":305,"p":0.5},{"d":306,"p":0.39},{"d":307,"p":0.35},{"d":308,"p":0.43},{"d":309,"p":0.45},{"d":310,"p":0.5},{"d":311,"p":0.9},{"d":312,"p":0.4},{"d":313,"p":0.5},{"d":314,"p":0.87},{"d":315,"p":0.45},{"d":316,"p":0.5},{"d":317,"p":0.6},{"d":318,"p":1.19},{"d":319,"p":0.31},{"d":320,"p":0.45},{"d":321,"p":0.5},{"d":322,"p":0.47},{"d":323,"p":0.43},{"d":324,"p":0.55},{"d":325,"p":0.83},{"d":326,"p":0.5},{"d":327,"p":0.6},{"d":328,"p":1.53},{"d":329,"p":0.55},{"d":330,"p":0.5},{"d":331,"p":0.47},{"d":332,"p":0.55},{"d":333,"p":0.5},{"d":334,"p":0.45},
{"d":335,"p":0.39},{"d":336,"p":0.5},{"d":337,"p":0.43},{"d":338,"p":0.7},{"d":339,"p":0.91},{"d":340,"p":0.5},{"d":341,"p":0.55},{"d":342,"p":0.39},{"d":343,"p":0.6},{"d":344,"p":0.5},{"d":345,"p":0.63},{"d":346,"p":0.55},{"d":347,"p":1.03},{"d":348,"p":0.6},{"d":349,"p":0.5},{"d":350,"p":1.86},{"d":351,"p":0.9},{"d":352,"p":0.87},{"d":353,"p":0.5},{"d":354,"p":0.58},{"d":355,"p":0.7},{"d":356,"p":0.55},{"d":357,"p":0.6},{"d":358,"p":1.1},{"d":359,"p":0.9},{"d":360,"p":0.67},{"d":361,"p":0.55},{"d":362,"p":0.6},{"d":363,"p":0.58},{"d":364,"p":0.6},{"d":365,"p":0.55}
],
"kpa":[
{"d":1,"a":0.03},{"d":6,"a":0.035},{"d":11,"a":0.03},{"d":16,"a":0.04},{"d":21,"a":0.035},{"d":26,"a":0.04},{"d":31,"a":0.04},{"d":36,"a":0.045},{"d":41,"a":0.04},{"d":46,"a":0.045},{"d":51,"a":0.04},{"d":56,"a":0.05},{"d":61,"a":0.04},{"d":66,"a":0.035},{"d":71,"a":0.04},{"d":76,"a":0.035},{"d":81,"a":0.03},{"d":86,"a":0.03},{"d":91,"a":0.035},{"d":96,"a":0.03},{"d":101,"a":0.025},{"d":106,"a":0.03},{"d":111,"a":0.025},{"d":116,"a":0.02},{"d":121,"a":0.025},{"d":126,"a":0.02},{"d":131,"a":0.02},{"d":136,"a":0.015},{"d":141,"a":0.02},{"d":146,"a":0.015},{"d":151,"a":0.01},{"d":156,"a":0.01},{"d":161,"a":0.01},{"d":166,"a":0.015},{"d":171,"a":0.015},{"d":176,"a":0.02},{"d":181,"a":0.03},{"d":186,"a":0.04},{"d":191,"a":0.05},{"d":196,"a":0.06},{"d":201,"a":0.07},{"d":206,"a":0.08},{"d":211,"a":0.085},{"d":216,"a":0.09},{"d":221,"a":0.08},{"d":226,"a":0.075},{"d":231,"a":0.07},{"d":236,"a":0.08},{"d":241,"a":0.085},{"d":246,"a":0.07},{"d":251,"a":0.06},{"d":256,"a":0.055},{"d":261,"a":0.05},{"d":266,"a":0.045},{"d":271,"a":0.05},{"d":276,"a":0.055},{"d":281,"a":0.05},{"d":286,"a":0.045},{"d":291,"a":0.045},{"d":296,"a":0.04},{"d":301,"a":0.045},{"d":306,"a":0.04},{"d":311,"a":0.035},{"d":316,"a":0.03},{"d":321,"a":0.035},{"d":326,"a":0.03},{"d":331,"a":0.03},{"d":336,"a":0.035},{"d":341,"a":0.03},{"d":346,"a":0.035},{"d":351,"a":0.04},{"d":356,"a":0.035},{"d":361,"a":0.03}
]
},
"columns":2,
"spacing":{"row":100,"column":245},
"bounds":"flush",
"resolve":{"scale":{"color":"independent","shape":"independent"},"legend":{"color":"independent","shape":"independent"}},
"concat":[
 {"width":435,"height":255,
  "title":{"text":["TUBA CITY, (1897-2013)","Average and Record Extreme Daily Temperature"]},
  "data":{"name":"tt"},
  "resolve":{"axis":{"x":"independent","y":"independent"}},
  "layer":[
   {"mark":{"type":"bar","width":2.8,"clip":true},
    "encoding":{
     "x":{"field":"d","type":"quantitative","scale":{"domain":[1,366],"nice":false,"zero":false},"axis":{"values":[1,32,60,91,121,152,182,213,244,274,305,335],"labelExpr":"['Jan','Feb','Mar','Apr','May','Jun','Jul','Aug','Sep','Oct','Nov','Dec'][indexof([1,32,60,91,121,152,182,213,244,274,305,335],datum.value)]","title":null,"grid":true,"labelFlush":false,"labelOverlap":false,"labelPadding":11,"zindex":1}},
     "y":{"field":"lo","type":"quantitative","scale":{"domain":[-15,110],"nice":false,"zero":false},"axis":{"values":[0,20,40,60,80,100],"labelExpr":"'' + datum.value","grid":true,"zindex":1,"title":"°F","titleX":-38,"titleY":127.5,"titleAngle":-90,"titleAlign":"center","titleBaseline":"middle"}},
     "y2":{"field":"mn"},
     "color":{"datum":"Record Min Temps","scale":{"domain":["Record Min Temps","Avg Min/Max Temps","Record Max Temps","Avg Daily Temps"],"range":["#c7ddf8","#b3ebb3","#fbc8c8","#00008b"]},
      "legend":{"title":null,"orient":"none","legendX":142,"legendY":194,"symbolSize":100,"symbolStrokeWidth":0,"symbolOffset":19,"labelOffset":18.7,"padding":3,"rowPadding":2.3,"strokeColor":"#808080","fillColor":"#ffffff","symbolOpacity":1,"zindex":2}}
    }},
   {"mark":{"type":"bar","width":2.8,"clip":true},
    "encoding":{"x":{"field":"d","type":"quantitative","axis":null},"y":{"field":"mn","type":"quantitative","axis":null},"y2":{"field":"mx"},"color":{"datum":"Avg Min/Max Temps"}}},
   {"mark":{"type":"bar","width":2.8,"clip":true},
    "encoding":{"x":{"field":"d","type":"quantitative","axis":null},"y":{"field":"mx","type":"quantitative","axis":null},"y2":{"field":"hi"},"color":{"datum":"Record Max Temps"}}},
   {"data":{"values":[{}]},"mark":{"type":"rule","color":"#404040","strokeWidth":1},"encoding":{"y":{"datum":0,"type":"quantitative","axis":null}}},
   {"mark":{"type":"point","filled":true,"size":108,"opacity":1,"strokeWidth":0,"clip":true},
    "encoding":{
     "x":{"field":"d","type":"quantitative","axis":{"orient":"top","values":[1,32,60,91,121,152,182,213,244,274,305,335],"labels":false,"grid":false,"title":null,"zindex":1}},
     "y":{"field":"av","type":"quantitative","axis":{"orient":"right","values":[0,20,40,60,80,100],"labels":false,"grid":false,"title":null,"zindex":1}},
     "color":{"datum":"Avg Daily Temps"},
     "shape":{"datum":"Avg Daily Temps","scale":{"domain":["Record Min Temps","Avg Min/Max Temps","Record Max Temps","Avg Daily Temps"],"range":["M-3.8,-1H3.8V1H-3.8Z","M-3.8,-1H3.8V1H-3.8Z","M-3.8,-1H3.8V1H-3.8Z","M-0.24,-0.24H0.24V0.24H-0.24Z"]},
      "legend":{"title":null,"orient":"none","legendX":142,"legendY":194,"symbolSize":100,"symbolStrokeWidth":0,"symbolOffset":19,"labelOffset":18.7,"padding":3,"rowPadding":2.3,"strokeColor":"#808080","fillColor":"#ffffff","symbolOpacity":1,"zindex":2}}
    }}
  ]},
 {"width":433,"height":255,
  "title":{"text":["KEAMS CANYON, (1894-2015)","Average and Record Extreme Daily Temperature"]},
  "data":{"name":"kt"},
  "resolve":{"axis":{"x":"independent","y":"independent"}},
  "layer":[
   {"mark":{"type":"bar","width":2.8,"clip":true},
    "encoding":{
     "x":{"field":"d","type":"quantitative","scale":{"domain":[1,364.3],"nice":false,"zero":false},"axis":{"values":[1,32,60,91,121,152,182,213,244,274,305,335],"labelExpr":"['Jan','Feb','Mar','Apr','May','Jun','Jul','Aug','Sep','Oct','Nov','Dec'][indexof([1,32,60,91,121,152,182,213,244,274,305,335],datum.value)]","title":null,"grid":true,"labelFlush":false,"labelOverlap":false,"labelPadding":11,"zindex":1}},
     "y":{"field":"lo","type":"quantitative","scale":{"domain":[-30,105],"nice":false,"zero":false},"axis":{"values":[-20,0,20,40,60,80,100],"labelExpr":"'' + datum.value","grid":true,"zindex":1,"title":null}},
     "y2":{"field":"mn"},
     "color":{"datum":"Record Min Temps","scale":{"domain":["Record Min Temps","Avg Min/Max Temps","Record Max Temps","Avg Daily Temps"],"range":["#c7ddf8","#b3ebb3","#fbc8c8","#00008b"]},
      "legend":{"title":null,"orient":"none","legendX":142,"legendY":195,"symbolSize":100,"symbolStrokeWidth":0,"symbolOffset":19,"labelOffset":18.7,"padding":3,"rowPadding":2.3,"strokeColor":"#808080","fillColor":"#ffffff","symbolOpacity":1,"zindex":2}}
    }},
   {"mark":{"type":"bar","width":2.8,"clip":true},
    "encoding":{"x":{"field":"d","type":"quantitative","axis":null},"y":{"field":"mn","type":"quantitative","axis":null},"y2":{"field":"mx"},"color":{"datum":"Avg Min/Max Temps"}}},
   {"mark":{"type":"bar","width":2.8,"clip":true},
    "encoding":{"x":{"field":"d","type":"quantitative","axis":null},"y":{"field":"mx","type":"quantitative","axis":null},"y2":{"field":"hi"},"color":{"datum":"Record Max Temps"}}},
   {"data":{"values":[{}]},"mark":{"type":"rule","color":"#404040","strokeWidth":1},"encoding":{"y":{"datum":0,"type":"quantitative","axis":null}}},
   {"mark":{"type":"point","filled":true,"size":108,"opacity":1,"strokeWidth":0,"clip":true},
    "encoding":{
     "x":{"field":"d","type":"quantitative","axis":{"orient":"top","values":[1,32,60,91,121,152,182,213,244,274,305,335],"labels":false,"grid":false,"title":null,"zindex":1}},
     "y":{"field":"av","type":"quantitative","axis":{"orient":"right","values":[-20,0,20,40,60,80,100],"labels":false,"grid":false,"title":null,"zindex":1}},
     "color":{"datum":"Avg Daily Temps"},
     "shape":{"datum":"Avg Daily Temps","scale":{"domain":["Record Min Temps","Avg Min/Max Temps","Record Max Temps","Avg Daily Temps"],"range":["M-3.8,-1H3.8V1H-3.8Z","M-3.8,-1H3.8V1H-3.8Z","M-3.8,-1H3.8V1H-3.8Z","M-0.24,-0.24H0.24V0.24H-0.24Z"]},
      "legend":{"title":null,"orient":"none","legendX":142,"legendY":195,"symbolSize":100,"symbolStrokeWidth":0,"symbolOffset":19,"labelOffset":18.7,"padding":3,"rowPadding":2.3,"strokeColor":"#808080","fillColor":"#ffffff","symbolOpacity":1,"zindex":2}}
    }}
  ]},
 {"width":435,"height":254,
  "title":{"text":"Average and Record Extreme Daily Precipitation"},
  "resolve":{"axis":{"x":"independent","y":"independent"}},
  "layer":[
   {"data":{"name":"tp"},"mark":{"type":"bar","width":1.25,"clip":true},
    "encoding":{
     "x":{"field":"d","type":"quantitative","scale":{"domain":[1,366],"nice":false,"zero":false},"axis":{"values":[1,32,60,91,121,152,182,213,244,274,305,335],"labelExpr":"['Jan','Feb','Mar','Apr','May','Jun','Jul','Aug','Sep','Oct','Nov','Dec'][indexof([1,32,60,91,121,152,182,213,244,274,305,335],datum.value)]","grid":true,"labelFlush":false,"labelOverlap":false,"labelPadding":10,"zindex":1,
       "title":["Figure by University of Arizona Cooperative Extension","Data source: Western Regional Climate Center","http://www.wrcc.dri.edu/cgi-bin/cliRECt.pl?az8792"],"titleX":-50,"titleY":56.5,"titleAlign":"left","titleBaseline":"top","titleAngle":0,"titleFontSize":4.8,"titleLineHeight":5,"titleColor":"#000000"}},
     "y":{"field":"p","type":"quantitative","scale":{"domain":[0,3.39],"nice":false},"axis":{"values":[0,0.5,1,1.5,2,2.5,3],"labelExpr":"'' + datum.value","grid":true,"zindex":1,"title":"inches","titleX":-35,"titleY":127,"titleAngle":-90,"titleAlign":"center","titleBaseline":"middle"}},
     "color":{"datum":"Daily Extreme","scale":{"domain":["Daily Average","Daily Extreme"],"range":["#006400","#87cefa"]},
      "legend":{"title":null,"orient":"none","legendX":6,"legendY":5,"symbolType":"M-3.8,-1H3.8V1H-3.8Z","symbolSize":100,"symbolStrokeWidth":0,"symbolOffset":19,"labelOffset":18.7,"padding":3,"rowPadding":2.7,"strokeColor":"#808080","fillColor":"#ffffff","symbolOpacity":1,"zindex":2}}
    }},
   {"data":{"name":"tpa"},"mark":{"type":"bar","width":6,"clip":true},
    "encoding":{
     "x":{"field":"d","type":"quantitative","axis":{"orient":"top","values":[1,32,60,91,121,152,182,213,244,274,305,335],"labels":false,"grid":false,"zindex":1,
       "title":["Temp % missing= 25.1884","Precip % missing= 17.345"],"titleX":347,"titleY":311.5,"titleAlign":"left","titleBaseline":"top","titleAngle":0,"titleFontSize":4.8,"titleLineHeight":5,"titleColor":"#000000"}},
     "y":{"field":"a","type":"quantitative","axis":{"orient":"right","values":[0,0.5,1,1.5,2,2.5,3],"labels":false,"grid":false,"title":null,"zindex":1}},
     "color":{"datum":"Daily Average"}
    }}
  ]},
 {"width":433,"height":254,
  "title":{"text":"Average and Record Extreme Daily Precipitation"},
  "resolve":{"axis":{"x":"independent","y":"independent"}},
  "layer":[
   {"data":{"name":"kp"},"mark":{"type":"bar","width":1.25,"clip":true},
    "encoding":{
     "x":{"field":"d","type":"quantitative","scale":{"domain":[1,364.3],"nice":false,"zero":false},"axis":{"values":[1,32,60,91,121,152,182,213,244,274,305,335],"labelExpr":"['Jan','Feb','Mar','Apr','May','Jun','Jul','Aug','Sep','Oct','Nov','Dec'][indexof([1,32,60,91,121,152,182,213,244,274,305,335],datum.value)]","grid":true,"labelFlush":false,"labelOverlap":false,"labelPadding":10,"zindex":1,
       "title":["University of Arizona Cooperative Extension","ce: Western Regional Climate Center","r.wrcc.dri.edu/cgi-bin/cliRECt.pl?az4586"],"titleX":-21,"titleY":51.5,"titleAlign":"left","titleBaseline":"top","titleAngle":0,"titleFontSize":4.8,"titleLineHeight":5,"titleColor":"#000000"}},
     "y":{"field":"p","type":"quantitative","scale":{"domain":[0,3.05],"nice":false},"axis":{"values":[0,0.5,1,1.5,2,2.5,3],"labelExpr":"'' + datum.value","grid":true,"zindex":1,"title":null}},
     "color":{"datum":"Daily Extreme","scale":{"domain":["Daily Average","Daily Extreme"],"range":["#006400","#87cefa"]},
      "legend":{"title":null,"orient":"none","legendX":6,"legendY":5.5,"symbolType":"M-3.8,-1H3.8V1H-3.8Z","symbolSize":100,"symbolStrokeWidth":0,"symbolOffset":19,"labelOffset":18.7,"padding":3,"rowPadding":2.7,"strokeColor":"#808080","fillColor":"#ffffff","symbolOpacity":1,"zindex":2}}
    }},
   {"data":{"name":"kpa"},"mark":{"type":"bar","width":6,"clip":true},
    "encoding":{
     "x":{"field":"d","type":"quantitative","axis":{"orient":"top","values":[1,32,60,91,121,152,182,213,244,274,305,335],"labels":false,"grid":false,"zindex":1,
       "title":["Temp % missing= 47.0826","Precip % missing= 41.7175"],"titleX":347,"titleY":310.5,"titleAlign":"left","titleBaseline":"top","titleAngle":0,"titleFontSize":4.8,"titleLineHeight":5,"titleColor":"#000000"}},
     "y":{"field":"a","type":"quantitative","axis":{"orient":"right","values":[0,0.5,1,1.5,2,2.5,3],"labels":false,"grid":false,"title":null,"zindex":1}},
     "color":{"datum":"Daily Average"}
    }}
  ]}
]
}
